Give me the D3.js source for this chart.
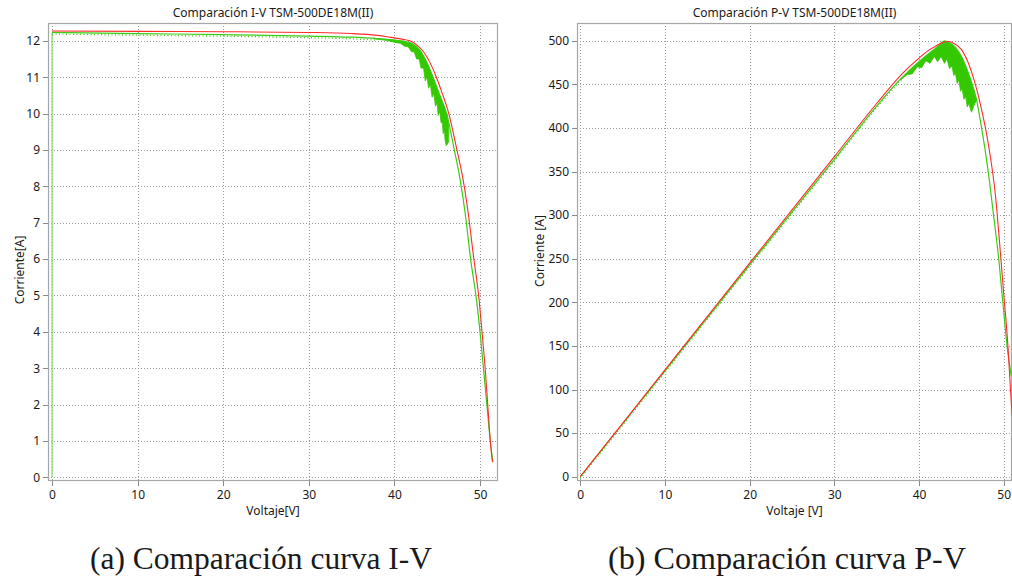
<!DOCTYPE html>
<html><head><meta charset="utf-8">
<script src="https://cdn.jsdelivr.net/npm/d3@7"></script>
<style>
body{margin:0;background:#fff;}
svg text{font-family:"Noto Sans","DejaVu Sans",sans-serif;fill:#1a1a1a;}
</style></head><body>
<svg id="c" width="1012" height="579"></svg>
<script>
// ---------- DATA ----------
const ivTitle = "Comparación I-V TSM-500DE18M(II)";
const pvTitle = "Comparación P-V TSM-500DE18M(II)";
const ivXLabel = "Voltaje[V]", ivYLabel = "Corriente[A]";
const pvXLabel = "Voltaje [V]", pvYLabel = "Corriente [A]";
const captionA = "(a) Comparación curva I-V";
const captionB = "(b) Comparación curva P-V";

const ivXTicks = [0, 10, 20, 30, 40, 50];
const ivYTicks = [0, 1, 2, 3, 4, 5, 6, 7, 8, 9, 10, 11, 12];
const pvXTicks = [0, 10, 20, 30, 40, 50];
const pvYTicks = [0, 50, 100, 150, 200, 250, 300, 350, 400, 450, 500];

// I-V model (red) [V, I]
const ivModel = [[0,12.27],[10,12.26],[20,12.25],[30,12.23],[35,12.2],[38,12.15],[39,12.12],[40,12.08],
  [41,12.04],[42,11.98],[42.7,11.87],[43.4,11.7],[44.2,11.38],[44.9,11.0],[45.6,10.55],[46.35,10.0],
  [47.3,9.0],[48.05,8.15],[48.6,7.3],[49.2,6.15],[49.9,4.86],[50.23,4.0],[50.6,3.0],[50.9,2.0],
  [51.2,1.0],[51.45,0.42]];
// I-V measured (green) [V, I]
const ivMeasuredStart = [[0,0],[0,12.23]];
const ivMeasured = [[0,12.23],[10,12.2],[20,12.17],[30,12.13],[35,12.1],[38,12.06],[40,12.02],
  [41,11.99],[42,11.93],[43,11.74],[43.8,11.4],[44.5,11.0],[45.3,10.5],[46.1,10.0],[47.0,9.0],
  [47.7,8.15],[48.3,7.2],[48.9,6.0],[49.6,4.86],[50.0,4.0],[50.4,3.0],[50.8,2.0],[51.2,1.0],[51.5,0.42]];
// I-V measured scatter band near the knee (outline, [V, I])
const ivBand = [[37.5,12.07],[40,12.02],[41,11.99],[42,11.93],[43,11.74],[43.8,11.4],[44.5,11.0],
  [45.3,10.5],[46.1,10.0],[46.35,9.7],
  [46.3,9.2],[46.05,9.12],[45.9,9.3],[45.85,9.55],[45.7,9.45],[45.6,9.75],[45.45,9.75],[45.3,10.05],
  [45.1,9.95],[45.0,10.3],[44.8,10.2],[44.6,10.55],[44.4,10.45],[44.2,10.8],[44.0,10.7],[43.8,11.0],
  [43.6,10.9],[43.4,11.25],[43.1,11.25],[42.9,11.5],[42.6,11.5],[42.3,11.7],[42.0,11.7],[41.6,11.84],
  [41.2,11.85],[40.7,11.93],[40.2,11.95],[39.5,11.99],[38.8,12.02],[37.5,12.06]];

// P-V model (red) [V, P]
const pvModel = [[0,0],[10,122.5],[20,245],[30,367],[35,428],[38,462],[40,480],[41,488],[42,494],
  [43,498.5],[43.5,499],[44,497.5],[45,490],[46,470],[46.5,455],[47,437],[47.5,416],[48,392],
  [48.5,362],[49,325],[49.5,270],[50,210],[50.5,150],[50.8,100],[51.0,70]];
// P-V measured (green) [V, P]
const pvMeasured = [[0,0],[10,121.5],[20,243],[30,364],[35,425],[38,458],[40,476],[41,484],[42,491],
  [43,496.5],[43.5,497.5],[44,495],[45,482],[46,458],[46.8,432],[47.3,405],[47.8,375],[48.3,340],
  [48.8,300],[49.3,260],[49.9,200],[50.4,150],[50.9,115]];
// P-V measured scatter band near the peak (outline, [V, P])
const pvBand = [[37.8,455],[39,467],[40,476],[41,484],[42,492],[42.6,498],[43,500],[43.4,499],[44,495],[45,482],
  [46,458],[46.8,432],
  [46.5,426],[46.2,418],[46.0,424],[45.9,428],[45.7,424],[45.5,436],[45.3,433],[45.1,445],[44.9,442],
  [44.7,455],[44.5,451],[44.3,463],[44.1,460],[43.9,471],[43.6,468],[43.3,479],[43.0,474],[42.6,482],
  [42.2,476],[41.8,482],[41.3,474],[40.8,477],[40.3,469],[39.8,470],[39.2,462],[38.6,461]];

// ---------- DRAW ----------
const svg = d3.select("#c");
const RED = "#ff2b2b", GREEN = "#3ccc14", BAND = "#33c800";

function panel(o) {
  const g = svg.append("g");
  const x = d3.scaleLinear().domain(o.xDomain).range([o.left, o.right]);
  const y = d3.scaleLinear().domain(o.yDomain).range([o.bottom, o.top]);
  const id = "clip" + o.key;
  svg.append("clipPath").attr("id", id).append("rect")
    .attr("x", o.left).attr("y", o.top).attr("width", o.right - o.left).attr("height", o.bottom - o.top);

  // grid
  const grid = g.append("g").attr("stroke", "#9a9a9a").attr("stroke-dasharray", "1,2").attr("shape-rendering", "crispEdges");
  o.xTicks.forEach(t => grid.append("line").attr("x1", Math.round(x(t)) + 0.5).attr("x2", Math.round(x(t)) + 0.5)
    .attr("y1", o.top).attr("y2", o.bottom));
  o.yTicks.forEach(t => grid.append("line").attr("y1", Math.round(y(t)) + 0.5).attr("y2", Math.round(y(t)) + 0.5)
    .attr("x1", o.left).attr("x2", o.right));

  // axes
  const xa = g.append("g").attr("transform", `translate(0,${o.bottom})`)
    .call(d3.axisBottom(x).tickValues(o.xTicks).tickSize(5).tickPadding(4).tickFormat(d3.format("d")));
  const ya = g.append("g").attr("transform", `translate(${o.left},0)`)
    .call(d3.axisLeft(y).tickValues(o.yTicks).tickSize(5).tickPadding(3).tickFormat(d3.format("d")));
  [xa, ya].forEach(a => {
    a.select(".domain").remove();
    a.selectAll("line").attr("stroke", "#8a8a8a").attr("shape-rendering", "crispEdges");
    a.selectAll("text").attr("font-size", "12px").attr("font-family", "Noto Sans").attr("fill", "#1a1a1a");
  });

  // frame
  g.append("rect").attr("x", o.left + 0.5).attr("y", o.top + 0.5)
    .attr("width", o.right - o.left - 1).attr("height", o.bottom - o.top - 1)
    .attr("fill", "none").attr("stroke", "#a6a6a6").attr("stroke-width", 1.2);

  // data
  const d = g.append("g").attr("clip-path", `url(#${id})`);
  const line = d3.line().x(p => x(p[0])).y(p => y(p[1])).curve(d3.curveMonotoneX);
  const poly = d3.line().x(p => x(p[0])).y(p => y(p[1])).curve(d3.curveLinear);
  if (o.start) d.append("path").attr("d", poly(o.start)).attr("fill", "none").attr("stroke", "#7fe060").attr("stroke-width", 1.2);
  // small measurement jitter look below the measured line
  d.append("path").attr("d", line(o.measured.filter(p => p[0] <= o.jitterMax)))
    .attr("transform", "translate(0,1.6)").attr("fill", "none").attr("stroke", GREEN)
    .attr("stroke-width", 1.3).attr("stroke-dasharray", "1,2.5");
  d.append("path").attr("d", poly(o.band) + "Z").attr("fill", BAND).attr("stroke", BAND).attr("stroke-width", 0.8)
    .attr("stroke-linejoin", "miter");
  d.append("path").attr("d", line(o.measured)).attr("fill", "none").attr("stroke", GREEN).attr("stroke-width", 1.2);
  d.append("path").attr("d", line(o.model)).attr("fill", "none").attr("stroke", RED).attr("stroke-width", 1.1);

  // texts
  svg.append("text").attr("x", (o.left + o.right) / 2).attr("y", 17).attr("text-anchor", "middle")
    .attr("font-size", "12px").text(o.title);
  svg.append("text").attr("x", (o.left + o.right) / 2).attr("y", 515).attr("text-anchor", "middle")
    .attr("font-size", "12px").text(o.xLabel);
  svg.append("text").attr("transform", `translate(${o.yLabelX},${o.yLabelY}) rotate(-90)`)
    .attr("text-anchor", "middle").attr("dy", "0.35em").attr("font-size", "12px").text(o.yLabel);
}

panel({key: "iv", left: 48, right: 498, top: 23, bottom: 481, xDomain: [-0.47, 52.1], yDomain: [-0.1, 12.49],
  xTicks: ivXTicks, yTicks: ivYTicks, model: ivModel, measured: ivMeasured, start: ivMeasuredStart,
  band: ivBand, jitterMax: 38, title: ivTitle, xLabel: ivXLabel, yLabel: ivYLabel, yLabelX: 20, yLabelY: 270});
panel({key: "pv", left: 577, right: 1012, top: 23, bottom: 481, xDomain: [-0.39, 50.98], yDomain: [-4.93, 520.3],
  xTicks: pvXTicks, yTicks: pvYTicks, model: pvModel, measured: pvMeasured, start: null,
  band: pvBand, jitterMax: 38, title: pvTitle, xLabel: pvXLabel, yLabel: pvYLabel, yLabelX: 540, yLabelY: 251});

// captions
[[captionA, 90, 342], [captionB, 608, 358]].forEach(([t, x0, w]) => {
  svg.append("text").attr("x", x0).attr("y", 569).attr("font-size", "31px")
    .style("font-family", "'Liberation Serif','DejaVu Serif',serif").attr("fill", "#111")
    .attr("textLength", w).attr("lengthAdjust", "spacingAndGlyphs").text(t);
});
</script>
</body></html>
